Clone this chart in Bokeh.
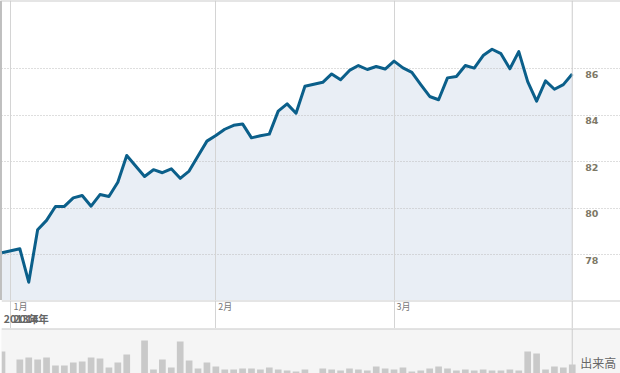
from bokeh.plotting import figure
from bokeh.layouts import column
from bokeh.models import Range1d, Grid, FixedTicker, Span
from bokeh.core.properties import value
from bokeh.embed import file_html
from bokeh.resources import INLINE

# ---- data (trading-day index; holidays have no entry) ----
days = [0, 2, 3, 4, 5, 6, 7, 8, 9, 10, 11, 12, 13, 14,
        16, 17, 18, 19, 20, 21, 22, 23, 24, 25, 26, 27, 28, 29, 30, 31, 32, 33, 34,
        36, 37, 38, 39, 40, 41, 42, 43, 44, 45, 46, 47, 48, 49, 50, 51, 52, 53, 54,
        55, 56, 57, 58, 59, 60, 61, 62, 63, 64]
price = [78.09, 78.26, 76.82, 79.08, 79.48, 80.08, 80.08, 80.45, 80.55, 80.09, 80.59, 80.51, 81.12, 82.27,
         81.37, 81.66, 81.53, 81.70, 81.29, 81.60, 82.25, 82.89, 83.13, 83.40, 83.57, 83.63, 83.03, 83.12,
         83.19, 84.18, 84.49, 84.09, 85.25,
         85.42, 85.78, 85.53, 85.93, 86.14, 85.97, 86.10, 85.99, 86.33, 86.04, 85.85, 85.32, 84.81, 84.67,
         85.61, 85.67, 86.14, 86.03, 86.57, 86.84, 86.65, 86.00, 86.74, 85.45, 84.61, 85.48, 85.12, 85.32, 85.78]
volume = [22, 14, 16, 14, 16, 8, 8, 11, 12, 16, 15, 6, 11, 19,
          33, 4, 14, 6, 32, 13, 5, 11, 7, 4, 4, 5, 5, 4, 6, 4, 3, 2, 4,
          5, 4, 3, 5, 4, 3, 7, 5, 4, 6, 2, 3, 5, 7, 5, 3, 4, 3, 4,
          3, 3, 4, 3, 22, 20, 4, 7, 6, 9]
month_ticks = [1, 24, 44]
month_labels = ["1月", "2月", "3月"]
year_ticks = [0, 1]
year_labels = ["2013年", "2014年"]
price_ticks = [78, 80, 82, 84, 86]
price_tick_labels = ["78", "80", "82", "84", "86"]
volume_title = "出来高"

W = 620
GRID = "#cccccc"
x_range = Range1d(-0.056, 69.416)


def make_fig(h, y_range, bg, border):
    p = figure(width=W, height=h, x_range=x_range, y_range=y_range,
               output_backend="svg", toolbar_location=None,
               x_axis_location=None, y_axis_location=None,
               min_border=0, min_border_left=1, min_border_right=0,
               min_border_top=0, min_border_bottom=0,
               background_fill_color=bg, border_fill_color=border,
               outline_line_color=None)
    p.center = []
    p.add_layout(Span(location=days[-1], dimension="height",
                      line_color=GRID, line_width=1))
    return p


# ---- price panel ----
y_price = Range1d(76.034, 88.938)
pa = make_fig(300, y_price, "white", "black")
pa.varea(x=days, y1=y_price.start, y2=price, fill_color="#e9eef5", level="image")
pa.add_layout(Grid(dimension=1, ticker=FixedTicker(ticks=price_ticks),
                   grid_line_color="#bdbdbd", grid_line_dash="1 2"), "center")
pa.add_layout(Grid(dimension=0, ticker=FixedTicker(ticks=month_ticks),
                   grid_line_color="#d4d4d4"), "center")
pa.line(days, price, line_width=3, line_color="#0b5f8a", line_join="round")
pa.text(x=[days[-1]] * len(price_ticks), y=price_ticks, text=price_tick_labels,
        x_offset=13, y_offset=2, text_baseline="top", text_align="left",
        text_font=value("DejaVu Sans"), text_font_style="bold",
        text_font_size="9.5px", text_color="#7d7866")
pa.add_layout(Span(location=y_price.end, dimension="width",
                   line_color=GRID, line_width=2))

# ---- date label strip ----
pb = make_fig(28, Range1d(0, 28), "white", "white")
pb.add_layout(Grid(dimension=0, ticker=FixedTicker(ticks=month_ticks),
                   grid_line_color="#d4d4d4"), "center")
pb.add_layout(Span(location=28, dimension="width", line_color=GRID, line_width=2))
pb.text(x=month_ticks, y=[28.5] * len(month_ticks), text=month_labels,
        x_offset=2.5, text_baseline="top", text_align="left",
        text_font=value("Noto Sans CJK JP"), text_font_size="9px", text_color="#777777")
pb.text(x=year_ticks, y=[18] * len(year_ticks), text=year_labels,
        x_offset=[1.8, 2.5], text_baseline="top", text_align="left",
        text_font=value("Noto Sans CJK JP"), text_font_style="bold",
        text_font_size="10.5px", text_color="#666666")

# ---- volume panel ----
pc = make_fig(45, Range1d(0, 45), "#f5f5f5", "#f5f5f5")
pc.add_layout(Span(location=45, dimension="width", line_color=GRID, line_width=2))
pc.vbar(x=days, top=volume, width=0.75, fill_color="#c9c9c9", line_color=None)
pc.text(x=[days[-1]], y=[11.5], text=[volume_title], x_offset=8,
        text_baseline="middle", text_align="left",
        text_font=value("Noto Sans CJK JP"), text_font_size="12px", text_color="#666666")

layout = column(pa, pb, pc, spacing=0)
open("out.html", "w").write(file_html(layout, INLINE))
